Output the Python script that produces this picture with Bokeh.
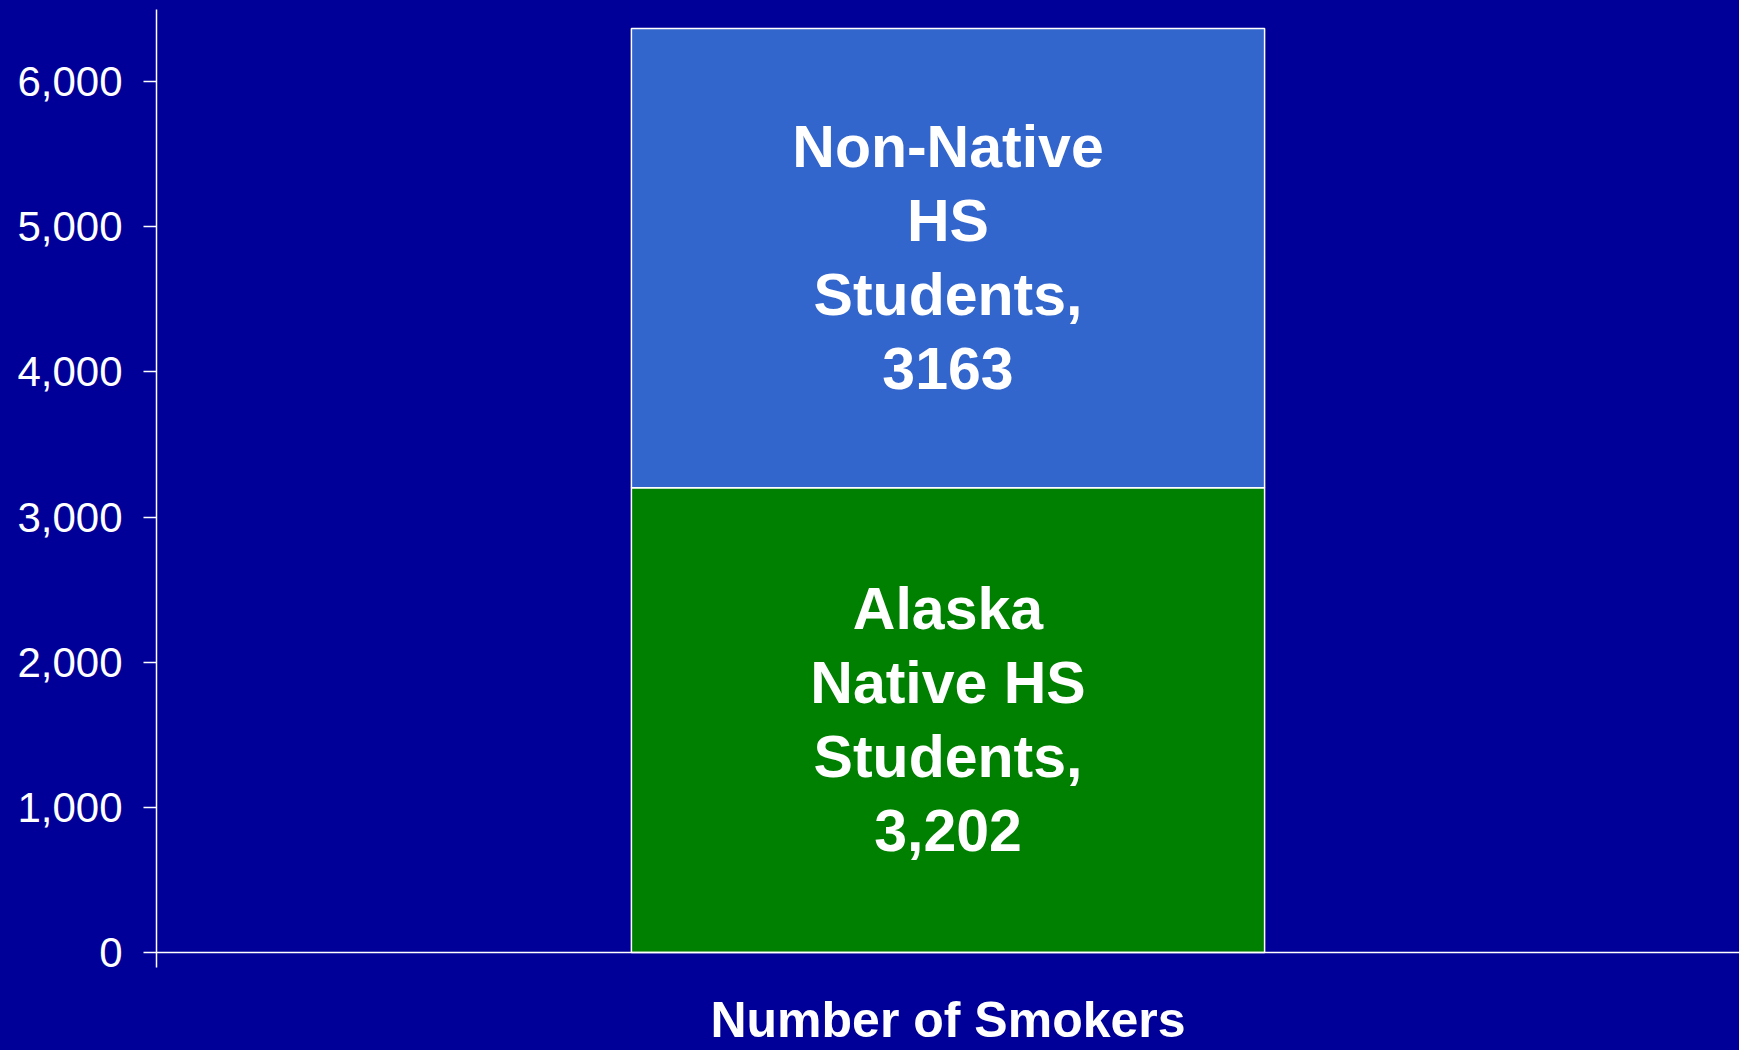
from bokeh.plotting import figure
from bokeh.models import ColumnDataSource, FixedTicker, NumeralTickFormatter, Range1d, FactorRange
from bokeh.core.properties import value
from bokeh.embed import file_html
from bokeh.resources import INLINE

# ---- data ----
categories = ["Number of Smokers"]
series_names = ["Alaska Native HS Students", "Non-Native HS Students"]
alaska_native = [3202]
non_native = [3163]
segment_labels = ["Alaska\nNative HS\nStudents,\n3,202", "Non-Native\nHS\nStudents,\n3163"]
y_ticks = [0, 1000, 2000, 3000, 4000, 5000, 6000]

BG = "#000099"
GREEN = "#008000"
BLUE = "#3366CC"
FONT = "Liberation Sans"

source = ColumnDataSource(dict(cat=categories, alaska=alaska_native, nonnative=non_native))

p = figure(
    x_range=FactorRange(*categories), y_range=Range1d(-675, 6496),
    width=1739, height=1050, output_backend="svg", toolbar_location=None,
    background_fill_color=BG, border_fill_color=BG,
    min_border_left=156, min_border_right=0, min_border_top=9, min_border_bottom=0,
)
p.outline_line_color = None
p.xgrid.grid_line_color = None
p.ygrid.grid_line_color = None

p.vbar_stack(["alaska", "nonnative"], x="cat", width=0.4, source=source,
             color=[GREEN, BLUE], line_color="white", line_width=1.5)

# labels at segment centres
lab_x = [categories[0], categories[0]]
lab_y = [alaska_native[0] / 2, alaska_native[0] + non_native[0] / 2]
p.text(x=lab_x, y=lab_y, text=segment_labels, text_color="white",
       text_font=value(FONT), text_font_style="bold", text_font_size="59px",
       text_align="center", text_baseline="middle", text_line_height=1.123)

# y axis
ya = p.yaxis[0]
ya.ticker = FixedTicker(ticks=y_ticks)
ya.formatter = NumeralTickFormatter(format="0,0")
ya.bounds = (-103, 6496)
ya.axis_line_color = "white"
ya.axis_line_width = 1.5
ya.major_tick_line_color = "white"
ya.major_tick_line_width = 1.5
ya.major_tick_in = 0
ya.major_tick_out = 13
ya.minor_tick_line_color = None
ya.major_label_text_color = "white"
ya.major_label_text_font = FONT
ya.major_label_text_font_size = "42px"
ya.major_label_standoff = 21

# x axis at y = 0
xa = p.xaxis[0]
xa.fixed_location = 0
xa.axis_line_color = "white"
xa.axis_line_width = 1.5
xa.major_tick_line_color = None
xa.major_tick_out = 0
xa.major_tick_in = 0
xa.minor_tick_line_color = None
xa.major_label_text_color = "white"
xa.major_label_text_font = FONT
xa.major_label_text_font_style = "bold"
xa.major_label_text_font_size = "50px"
xa.major_label_standoff = 39

html = file_html(p, INLINE)
html = html.replace("<head>", "<head><style>html,body{background:#000099;}</style>", 1)
open("out.html", "w").write(html)
